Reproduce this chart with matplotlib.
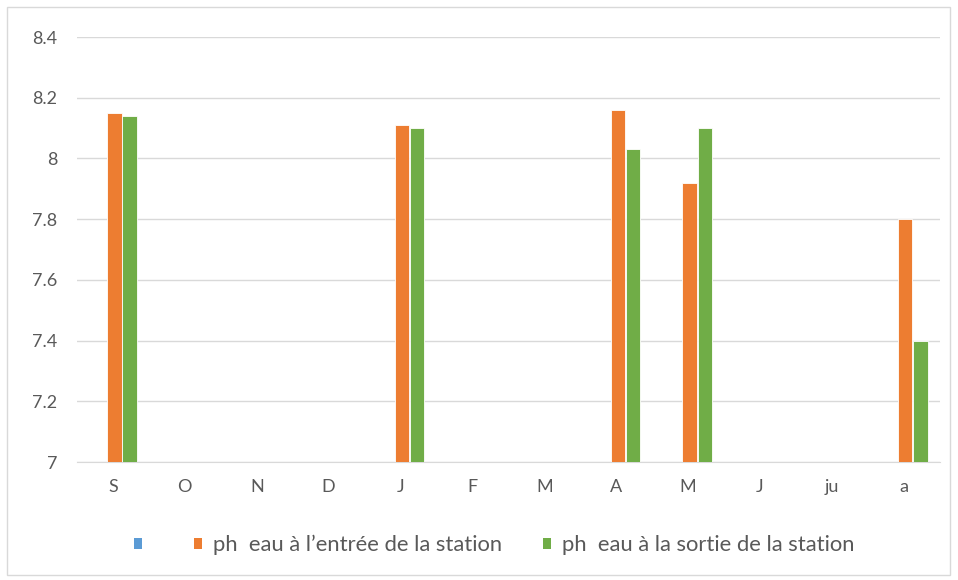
import numpy as np
import matplotlib.pyplot as plt
from matplotlib.patches import Patch, Rectangle

months = ["S", "O", "N", "D", "J", "F", "M", "A", "M", "J", "ju", "a"]
ph_blank = [np.nan] * 12
ph_entree = [8.15, np.nan, np.nan, np.nan, 8.11, np.nan, np.nan, 8.16, 7.92, np.nan, np.nan, 7.80]
ph_sortie = [8.14, np.nan, np.nan, np.nan, 8.10, np.nan, np.nan, 8.03, 8.10, np.nan, np.nan, 7.40]
labels = ["", "ph  eau à l\u2019entrée de la station", "ph  eau à la sortie de la station"]
colors = ["#5B9BD5", "#ED7D31", "#70AD47"]
yticks = [7, 7.2, 7.4, 7.6, 7.8, 8, 8.2, 8.4]
ytick_labels = ["7", "7.2", "7.4", "7.6", "7.8", "8", "8.2", "8.4"]

plt.rcParams['font.family'] = ['Lato', 'DejaVu Sans']

fig = plt.figure(figsize=(9.58, 5.8), dpi=100)
ax = fig.add_axes([0.0804, 0.2034, 0.9006, 0.7328])

x = np.arange(len(months))
w = 0.2
base = yticks[0]
for i, (vals, c) in enumerate(zip([ph_blank, ph_entree, ph_sortie], colors)):
    v = np.array(vals, dtype=float)
    ax.bar(x + (i - 1) * 0.21 + 0.02, v - base, bottom=base, width=w, color=c,
           edgecolor="white", linewidth=0.6, zorder=3)

ax.set_xlim(-0.5, 11.5)
ax.set_ylim(7, 8.4)
ax.set_yticks(yticks)
ax.set_yticklabels(ytick_labels)
ax.set_xticks(x)
ax.set_xticklabels(months)
ax.tick_params(axis="both", length=0, labelsize=13, labelcolor="#595959")
ax.tick_params(axis="y", pad=14)
ax.tick_params(axis="x", pad=12)
ax.grid(axis="y", color="#D9D9D9", linewidth=1, zorder=0)
for s in ["top", "right", "left"]:
    ax.spines[s].set_visible(False)
ax.spines["bottom"].set_color("#D9D9D9")

handles = [Patch(facecolor=c, edgecolor="none") for c in colors]
fig.legend(handles, labels, loc="center", bbox_to_anchor=(0.516, 0.06), ncol=3,
           frameon=False, fontsize=15.8, labelcolor="#595959",
           handlelength=0.37, handleheight=0.37, handletextpad=0.5, columnspacing=1.85)

fig.patches.append(Rectangle((7 / 958, 5 / 580), 943 / 958, 568 / 580, transform=fig.transFigure,
                             fill=False, edgecolor="#D9D9D9", linewidth=1))

fig.savefig("out.png", dpi=100)
